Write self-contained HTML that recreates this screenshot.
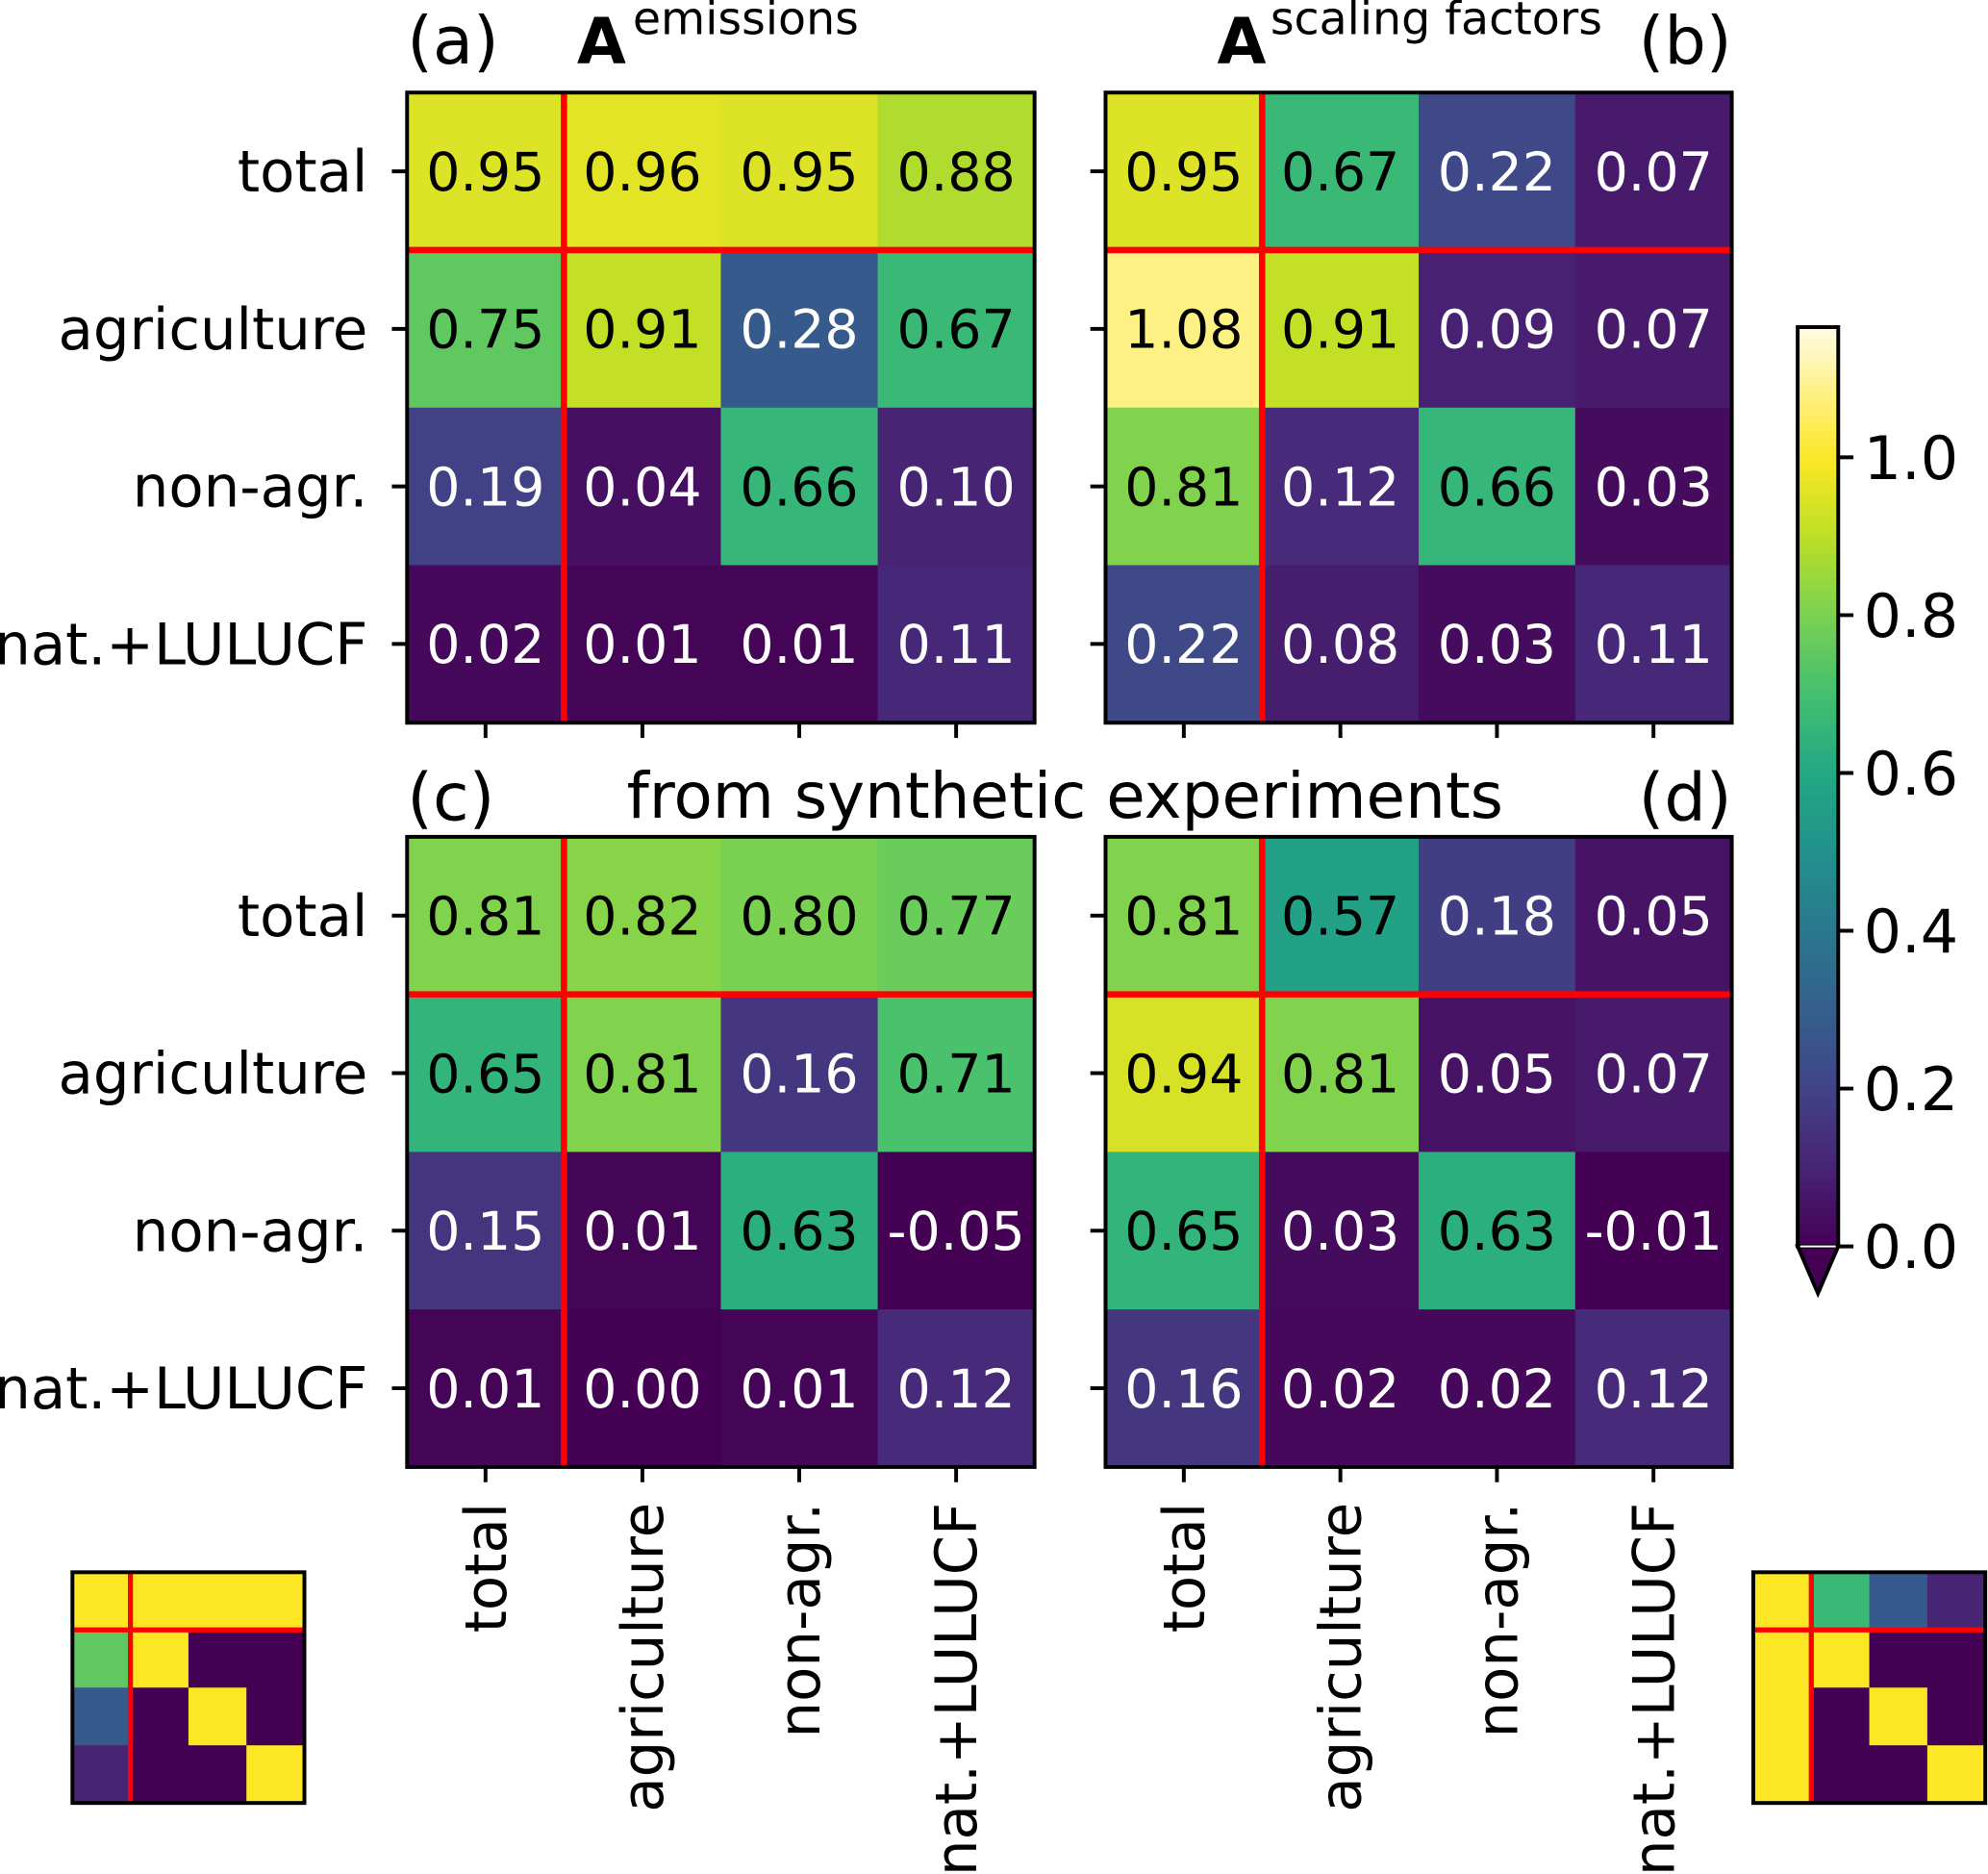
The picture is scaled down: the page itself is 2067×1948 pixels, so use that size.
<!DOCTYPE html>
<html><head><meta charset="utf-8"><style>
html,body{margin:0;padding:0;background:#fff;}
svg{display:block;font-family:"DejaVu Sans","Liberation Sans",sans-serif;}
</style></head><body>
<svg id="fig" width="2067" height="1948" viewBox="0 0 1568 1478" xmlns="http://www.w3.org/2000/svg"></svg>
<script>
const categories = ["total","agriculture","non-agr.","nat.+LULUCF"];
const valuesA = [[0.95,0.96,0.95,0.88],[0.75,0.91,0.28,0.67],[0.19,0.04,0.66,0.10],[0.02,0.01,0.01,0.11]];
const valuesB = [[0.95,0.67,0.22,0.07],[1.08,0.91,0.09,0.07],[0.81,0.12,0.66,0.03],[0.22,0.08,0.03,0.11]];
const valuesC = [[0.81,0.82,0.80,0.77],[0.65,0.81,0.16,0.71],[0.15,0.01,0.63,-0.05],[0.01,0.00,0.01,0.12]];
const valuesD = [[0.81,0.57,0.18,0.05],[0.94,0.81,0.05,0.07],[0.65,0.03,0.63,-0.01],[0.16,0.02,0.02,0.12]];
const insetLeft = [[1,1,1,1],[0.75,1,0,0],[0.28,0,1,0],[0.1,0,0,1]];
const insetRight = [[1,0.67,0.28,0.1],[1,1,0,0],[1,0,1,0],[1,0,0,1]];
const cbTicks = [0.0,0.2,0.4,0.6,0.8,1.0];
const cbTickLabels = ["0.0","0.2","0.4","0.6","0.8","1.0"];
const cbMax = 1.165;

const NS="http://www.w3.org/2000/svg";
const svg=document.getElementById('fig');
function mk(tag,attrs,parent){const e=document.createElementNS(NS,tag);for(const k in attrs)e.setAttribute(k,attrs[k]);(parent||svg).appendChild(e);return e;}
const stops=["#440154","#482475","#414487","#355f8d","#2a788e","#21918c","#22a884","#44bf70","#7ad151","#bddf26","#fde725"];
function hx(c){return [parseInt(c.slice(1,3),16),parseInt(c.slice(3,5),16),parseInt(c.slice(5,7),16)];}
function mix(a,b,t){const A=hx(a),B=hx(b);return "rgb("+A.map((v,i)=>Math.round(v+(B[i]-v)*t)).join(",")+")";}
function cmap(v){
  if(v<=0)return stops[0];
  if(v>=1){const t=Math.min(1,(v-1)/(cbMax-1));return mix("#fde725","#fffbe6",t);}
  const p=v*10,i=Math.floor(p);return mix(stops[i],stops[i+1],p-i);
}
function heat(vals,x0,y0,w,h,name,opts){
  const g=mk('g',{});
  
  
  const cw=w/4,ch=h/4;
  const xs=j=>x0+j*cw, ys=i=>y0+i*ch;
  vals.forEach((row,i)=>row.forEach((v,j)=>{
    const r=mk('rect',{x:xs(j),y:ys(i),width:cw+0.5,height:ch+0.5,fill:cmap(v)},g);
    
    
    if(opts.text){
      const t=mk('text',{x:xs(j)+cw/2,y:ys(i)+ch/2+15,'text-anchor':'middle','font-size':opts.fs,fill:v<0.5?'#fff':'#000'},g);
      
      
      t.textContent=v.toFixed(2);
    }
  }));
  mk('line',{x1:xs(1),x2:xs(1),y1:y0,y2:y0+h,stroke:'#ff0000','stroke-width':opts.lw},g);
  mk('line',{x1:x0,x2:x0+w,y1:ys(1),y2:ys(1),stroke:'#ff0000','stroke-width':opts.lw},g);
  mk('rect',{x:x0,y:y0,width:w,height:h,fill:'none',stroke:'#000','stroke-width':opts.bw},g);
  if(opts.axes){
    for(let i=0;i<4;i++){
      mk('line',{x1:x0-12,x2:x0,y1:ys(i)+ch/2,y2:ys(i)+ch/2,stroke:'#000','stroke-width':3},g);
      mk('line',{x1:xs(i)+cw/2,x2:xs(i)+cw/2,y1:y0+h,y2:y0+h+12,stroke:'#000','stroke-width':3},g);
      if(opts.ylab){
        const t=mk('text',{x:x0-31,y:ys(i)+ch/2+16,'text-anchor':'end','font-size':45},g);
        
        
        t.textContent=categories[i];
      }
      if(opts.xlab){
        const cx=xs(i)+cw/2+16,cy=y0+h+28;
        const t=mk('text',{x:cx,y:cy,'text-anchor':'end','font-size':45,transform:`rotate(-90 ${cx} ${cy})`},g);
        
        
        t.textContent=categories[i];
      }
    }
  }
}
heat(valuesA,321,73,495,497,'heatmap-a',{text:true,fs:42,lw:5,bw:3,axes:true,ylab:true,xlab:false});
heat(valuesB,872,73,494,497,'heatmap-b',{text:true,fs:42,lw:5,bw:3,axes:true,ylab:false,xlab:false});
heat(valuesC,321,660,495,497,'heatmap-c',{text:true,fs:42,lw:5,bw:3,axes:true,ylab:true,xlab:true});
heat(valuesD,872,660,494,497,'heatmap-d',{text:true,fs:42,lw:5,bw:3,axes:true,ylab:false,xlab:true});
heat(insetLeft,57,1240,183,182,'inset-emissions',{text:false,lw:4,bw:3,axes:false});
heat(insetRight,1383,1240,183,182,'inset-scaling',{text:false,lw:4,bw:3,axes:false});

function txt(s,x,y,fs,anchor,name,extra){const t=mk('text',Object.assign({x:x,y:y,'font-size':fs,'text-anchor':anchor||'start'},extra||{}));t.textContent=s;return t;}
txt('(a)',321,50,52,'start','panel-label-a');
txt('(b)',1366,50,52,'end','panel-label-b');
txt('(c)',321,647,52,'start','panel-label-c');
txt('(d)',1366,647,52,'end','panel-label-d');
txt('from synthetic experiments',840,645,50,'middle','title-synthetic');
txt('A',455,50,50,'start','title-a-emissions',{'font-weight':'bold'});
txt('emissions',499,27,36,'start','title-a-superscript');
txt('A',960,50,50,'start','title-b-scaling',{'font-weight':'bold'});
txt('scaling factors',1002,27,36,'start','title-b-superscript');

const cbX=1418,cbW=32,cbY0=983,cbTop=258;
const cy=v=>cbY0-(v/cbMax)*(cbY0-cbTop);
const defs=mk('defs',{});
const grad=mk('linearGradient',{id:'cbg',x1:0,y1:1,x2:0,y2:0},defs);
for(let k=0;k<=40;k++){const v=k/40*cbMax;mk('stop',{offset:k/40,'stop-color':cmap(v)},grad);}
const cb=mk('g',{});


mk('polygon',{points:`${cbX},${cbY0} ${cbX+cbW},${cbY0} ${cbX+cbW/2},1020`,fill:stops[0],stroke:'#000','stroke-width':3},cb);
mk('rect',{x:cbX,y:cbTop,width:cbW,height:cbY0-cbTop,fill:'url(#cbg)',stroke:'#000','stroke-width':3},cb);
mk('line',{x1:cbX+2,x2:cbX+cbW-2,y1:cbY0,y2:cbY0,stroke:'#fff','stroke-width':1.5},cb);
cbTicks.forEach((v,i)=>{
  mk('line',{x1:cbX+cbW,x2:cbX+cbW+12,y1:cy(v),y2:cy(v),stroke:'#000','stroke-width':3},cb);
  const t=mk('text',{x:cbX+cbW+20,y:cy(v)+17,'font-size':47},cb);
  
  
  t.textContent=cbTickLabels[i];
});
</script>
</body></html>
